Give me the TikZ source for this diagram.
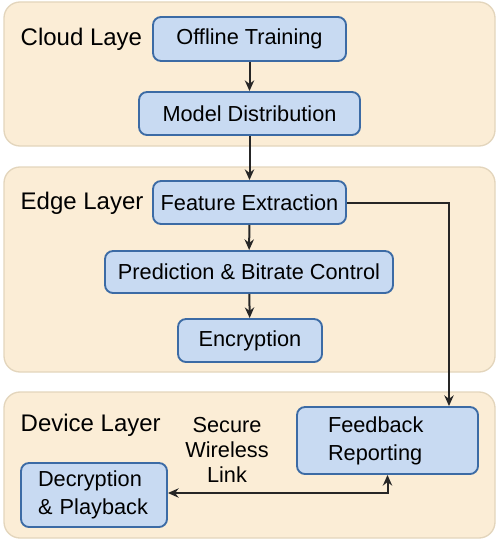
\documentclass[tikz,border=0pt]{standalone}
\usepackage{fontspec}
\setmainfont{Liberation Sans}
\usetikzlibrary{arrows.meta,positioning}
\definecolor{layerfill}{HTML}{FBEDD6}
\definecolor{layerline}{HTML}{E3D5BC}
\definecolor{boxfill}{HTML}{C8DAF2}
\definecolor{boxline}{HTML}{3C6BA5}
\tikzset{
  layer/.style={draw=layerline, fill=layerfill, line width=1pt, rounded corners=12pt},
  proc/.style={draw=boxline, fill=boxfill, line width=1.4pt, rounded corners=6pt,
    inner sep=0pt, font=\fontsize{16.3}{21}\selectfont, align=center},
  title/.style={anchor=west, font=\fontsize{18}{21}\selectfont},
  flow/.style={-{Stealth[length=8pt,width=7pt]}, line width=1.5pt, draw=black!85},
}
\begin{document}
\begin{tikzpicture}[x=0.75pt,y=-0.75pt]
\useasboundingbox (0,0) rectangle (498,542);
% layers
\draw[layer] (4,2) rectangle (495,146);
\draw[layer] (4,167) rectangle (495,372);
\draw[layer] (4,392) rectangle (495,538);
\node[title] (cloud) at (16,39) {Cloud Laye};
\node[title] (edge) at (16,203) {Edge Layer};
\node[title] (device) at (16,425) {Device Layer};

% cloud
\node[proc, minimum width=193*0.75pt, minimum height=44*0.75pt] (train) at (249.5,39) {Offline Training};
\node[proc, minimum width=221*0.75pt, minimum height=43*0.75pt] (dist) at (249.5,113.5) {Model Distribution};
% edge
\node[proc, minimum width=193*0.75pt, minimum height=43*0.75pt] (feat) at (249.5,202.5) {Feature Extraction};
\node[proc, minimum width=288*0.75pt, minimum height=42*0.75pt] (pred) at (249,272) {Prediction \& Bitrate Control};
\node[proc, minimum width=144*0.75pt, minimum height=43*0.75pt] (enc) at (250,340.5) {Encryption};
% device
\node[proc, minimum width=181*0.75pt, minimum height=67*0.75pt, align=left, text width=181*0.75pt-62*0.75pt] (feed) at (387.5,440.5) {Feedback\\Reporting};
\node[proc, minimum width=146*0.75pt, minimum height=64*0.75pt, align=left, text width=146*0.75pt-34*0.75pt] (dec) at (94,495) {Decryption\\\& Playback};
\node[font=\fontsize{16.3}{19}\selectfont, align=center] (link) at (227,450) {Secure\\Wireless\\Link};

\draw[flow] (train) -- (dist);
\draw[flow] (dist) -- (feat);
\draw[flow] (feat) -- (pred);
\draw[flow] (pred) -- (enc);
\draw[flow] (feat.east) -| ([xshift=61.5*0.75pt]feed.north);
\draw[flow, {Stealth[length=8pt,width=7pt]}-{Stealth[length=8pt,width=7pt]}] ([yshift=2*0.75pt]dec.east) -| (feed.south);
\end{tikzpicture}
\end{document}
